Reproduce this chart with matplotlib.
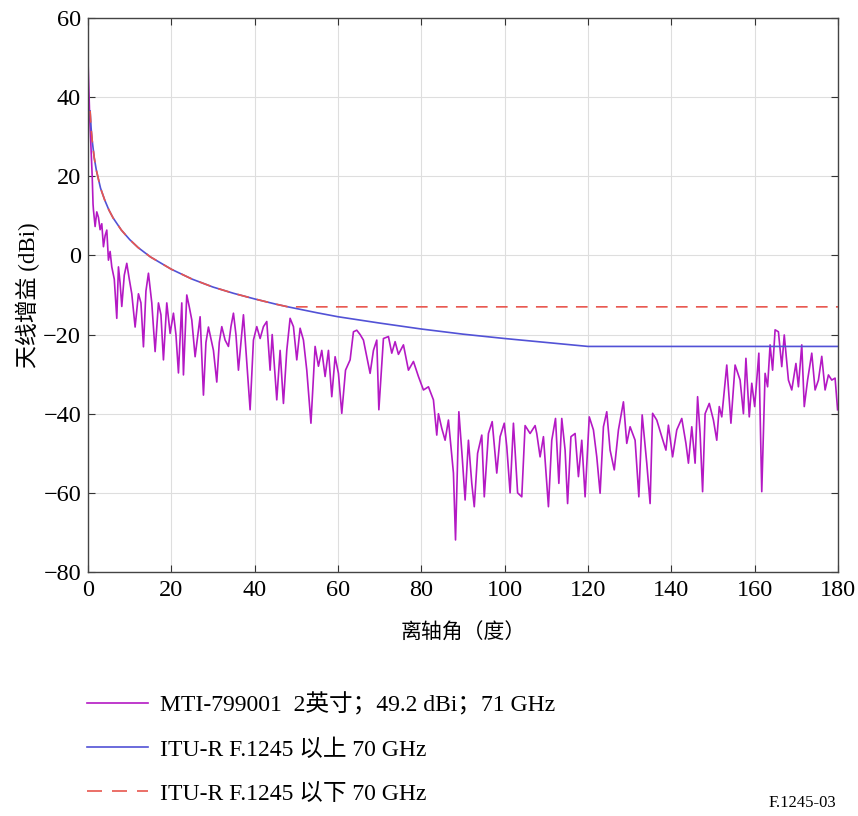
import matplotlib
matplotlib.use("Agg")
import matplotlib.pyplot as plt
from matplotlib.lines import Line2D

FONTS = ['Liberation Serif', 'Noto Sans CJK SC', 'DejaVu Sans']
plt.rcParams['font.family'] = FONTS

mti_angle = [
    0.0, 0.2, 0.4, 0.6, 0.8, 1.0, 1.2,
    1.3, 1.7, 2.1, 2.5, 2.9, 3.3, 3.7, 4.1, 4.5, 4.9, 5.3, 5.7, 6.3, 6.9,
    7.3, 7.7, 8.1, 8.7, 9.3, 9.9, 10.5, 11.3, 12.1, 12.7, 13.3, 13.9, 14.5,
    15.3, 16.1, 16.9, 17.5, 18.1, 18.9, 19.7, 20.5, 21.1, 21.7, 22.5, 22.9,
    23.7, 24.3, 24.9, 25.7, 26.9, 27.7, 28.3, 28.9, 29.5, 30.1, 30.9, 31.5,
    32.1, 32.9, 33.7, 34.3, 34.9, 35.5,
    36.1, 37.3, 38.9, 39.7, 40.5, 41.3, 42.1, 42.9, 43.7, 44.2, 45.3, 46.1,
    46.9, 47.7, 48.5, 49.3, 50.1, 50.9, 51.7, 52.5, 53.5, 54.5, 55.3, 56.1,
    56.9, 57.7, 58.5, 59.3, 60.1, 60.9, 61.8, 62.9, 63.7, 64.5, 65.3, 66.1,
    66.9, 67.7, 68.5, 69.3, 69.8, 70.9,
    72.1, 72.9, 73.7, 74.5, 75.7, 76.9, 78.1, 79.3, 80.5, 81.7, 82.9, 83.7,
    84.1, 84.9, 85.7, 86.5, 87.7, 88.2, 89.0, 89.8, 90.5, 91.3, 92.1, 92.7,
    93.5, 94.5, 95.1, 96.1, 97.0, 98.1, 98.9, 99.9, 100.5, 101.3, 102.1,
    103.1, 104.1, 104.9, 106.1, 107.3,
    107.7, 108.5, 109.3, 110.5, 111.3, 112.2, 113.0, 113.7, 114.5, 115.1,
    115.9, 116.9, 117.7, 118.5, 119.3, 120.3, 121.3, 122.1, 122.9, 123.7,
    124.5, 125.3, 126.3, 127.3, 128.5, 129.3, 130.1, 131.3, 132.2, 133.0,
    134.1, 134.9, 135.5, 136.5, 137.7, 138.7, 139.3, 140.3, 141.3, 142.5,
    143.5,
    144.1, 144.9, 145.7, 146.3, 146.9, 147.5, 148.1, 149.1, 150.1, 150.9,
    151.5, 152.1, 153.3, 154.3, 155.3, 156.5, 157.3, 157.9, 158.7, 159.3,
    160.0, 161.0, 161.7, 162.5, 163.1, 163.7, 164.3, 164.9, 165.7, 166.5,
    167.1, 168.1, 168.9, 169.9, 170.5, 171.3, 171.9, 172.7, 173.7, 174.5,
    175.3, 176.1, 176.9, 177.7, 178.5, 179.3, 179.9,
]
mti_gain = [
    49, 42, 35, 30, 25, 20, 13,
    11.5, 7.3, 11, 9.6, 6.5, 8, 2.2, 5, 6.4, -1.2, 1, -2.9, -6, -15.9,
    -2.9, -7, -12.9, -5, -2, -6, -9.7, -18.1, -9.7, -12, -23.1, -9, -4.5,
    -12, -24.3, -12, -15, -26.4, -12, -19.7, -14.6, -20, -29.7, -12, -30.2,
    -10, -13, -16.3, -25.6, -15.5, -35.3, -22, -18.1, -21, -24, -32, -22,
    -18, -21.4, -23, -18, -14.6, -20,
    -29, -15, -39, -21.4, -18, -21, -18, -16.7, -29, -20, -36.5, -24,
    -37.4, -24, -15.9, -18, -26.4, -18.4, -21.4, -29, -42.4, -23, -28, -24,
    -30.6, -24, -35.7, -25.6, -29.8, -39.9, -29, -26.4, -19.3, -18.9, -20, -21.4,
    -25.6, -29.8, -24, -21.4, -39, -21,
    -20.5, -24.7, -21.8, -25, -22.6, -29, -26.8, -30.6, -34, -33.2, -36.5, -45.4,
    -40, -43.7, -46.7, -41.6, -55, -71.9, -39.5, -50.9, -61.8, -46.7, -57.6, -63.5,
    -50, -45.4, -61, -45, -42, -55, -45.8, -42.4, -48.3, -60, -42.4,
    -60, -61, -43, -45, -43,
    -45, -50.9, -45.8, -63.5, -46.7, -41.2, -57.6, -41.2, -49.2, -62.7,
    -45.8, -45, -55.9, -46.7, -61, -40.8, -44.1, -50.9, -60.1, -43.3,
    -39.5, -49.2, -54.2, -44.1, -37, -47.5, -43.3, -46.7, -61, -40.3,
    -52.5, -62.7, -39.9, -41.6, -45.8, -49.2, -42.9, -50.9, -44.1, -41.2,
    -47.5,
    -52.5, -43.3, -52.5, -35.7, -45, -59.7, -40, -37.4, -41.6, -46.7,
    -38.2, -40.8, -27.7, -42.4, -27.7, -31.5, -40, -26, -40.8, -32.3,
    -38.2, -24.7, -59.7, -29.8, -33.2, -22.6, -29, -18.8, -19.3, -28.1,
    -20.1, -31.5, -34, -27.3, -33.2, -22.6, -38.2, -31.5, -24.7, -34,
    -31.5, -25.5, -34, -30.2, -31.5, -31, -39,
]

# ITU-R F.1245 reference envelopes
itu_angle = [0.5, 0.75, 1, 1.5, 2, 3, 4, 5, 6, 8, 10, 12, 15, 20, 25, 30,
             35, 40, 45, 48, 55, 60, 70, 80, 90, 100, 110, 120, 180]
itu_above = [36.5, 32, 29, 24.6, 21.5, 17, 14, 11.5, 9.5, 6.4, 4, 2, -0.4,
             -3.5, -6, -8, -9.6, -11, -12.3, -13, -14.5, -15.5, -17.1, -18.6,
             -19.9, -21, -22, -23, -23]
itu_below = [36.5, 32, 29, 24.6, 21.5, 17, 14, 11.5, 9.5, 6.4, 4, 2, -0.4,
             -3.5, -6, -8, -9.6, -11, -12.3, -13, -13, -13, -13, -13,
             -13, -13, -13, -13, -13]

labels = ['MTI-799001  2英寸；49.2 dBi；71 GHz',
          'ITU-R F.1245 以上 70 GHz',
          'ITU-R F.1245 以下 70 GHz']
c_mti = '#B419C4'
c_above = '#5252D6'
c_below = '#E8564E'

fig = plt.figure(figsize=(8.58, 8.16), dpi=100)
ax = fig.add_axes([0.1026, 0.299, 0.8741, 0.679])

ax.plot(mti_angle, mti_gain, color=c_mti, lw=1.2)
ax.plot(itu_angle, itu_above, color=c_above, lw=1.2)
ax.plot(itu_angle, itu_below, color=c_below, lw=1.2, ls=(0, (7, 5)))

ax.set_xlim(0, 180)
ax.set_ylim(-80, 60)
ax.set_xticks(range(0, 181, 20))
ax.set_yticks(range(-80, 61, 20))
ax.set_yticklabels([str(v).replace('-', '\u2212') for v in range(-80, 61, 20)])
ax.grid(True, color='#dedede', lw=0.8)
ax.set_axisbelow(True)
ax.tick_params(direction='in', top=True, right=True, length=5,
               labelsize=17.5, color='#333333')
ax.tick_params(axis='x', pad=6)
ax.tick_params(axis='y', pad=5)
for s in ax.spines.values():
    s.set_color('#444444')
    s.set_linewidth(1.0)

ax.set_xlabel('离轴角（度）', fontsize=15, labelpad=16)
ax.set_ylabel('天线增益 (dBi)', fontsize=16.5, labelpad=2)

handles = [Line2D([], [], color=c_mti, lw=1.2),
           Line2D([], [], color=c_above, lw=1.2),
           Line2D([], [], color=c_below, lw=1.2, ls=(0, (9, 6)))]
fig.legend(handles, labels, loc='upper left', bbox_to_anchor=(0.09, 0.162),
           frameon=False, fontsize=17, handlelength=2.6, handletextpad=0.5,
           labelspacing=0.95, borderaxespad=0)

fig.text(0.975, 0.006, 'F.1245-03', fontsize=12, ha='right', va='bottom')

fig.savefig('out.png', dpi=100)
